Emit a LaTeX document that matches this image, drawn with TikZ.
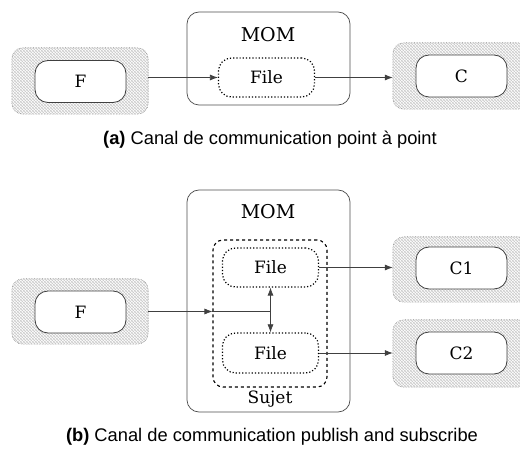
\documentclass[tikz,border=0pt]{standalone}
\usepackage{fontspec}
\setmainfont{DejaVu Serif}
\newfontfamily\capfont{Liberation Sans}
\usetikzlibrary{arrows.meta}
\tikzset{
  outerbox/.style={minimum width=136pt, inner sep=0pt},
  outline/.style={draw=black!45, densely dotted, line width=0.6pt, rounded corners=11pt},
  hatch/.style={draw=black!22, line width=0.45pt},
  innerbox/.style={draw=black!75, line width=0.8pt, fill=white, rounded corners=13pt,
    minimum width=91pt, minimum height=42pt, inner sep=0pt, font=\fontsize{17}{20}\selectfont},
  mombox/.style={draw=black!70, line width=0.7pt, rounded corners=12pt, minimum width=163pt, inner sep=0pt},
  filebox/.style={draw=black, dotted, line width=1.2pt, rounded corners=13pt,
    minimum width=96pt, inner sep=0pt, font=\fontsize{17}{20}\selectfont},
  sujetbox/.style={draw=black, dashed, line width=1.1pt, rounded corners=10pt,
    minimum width=114pt, minimum height=147pt, inner sep=0pt},
  lbl/.style={font=\fontsize{17}{20}\selectfont, inner sep=0pt},
  momlbl/.style={font=\fontsize{19}{22}\selectfont, inner sep=0pt},
  arr/.style={draw=black!75, line width=0.7pt, -{Latex[length=8pt,width=6pt]}},
  ln/.style={draw=black!75, line width=0.7pt},
  caption/.style={font=\capfont\fontsize{18.3}{22}\selectfont, inner sep=0pt}
}
% cross-hatched fill and dotted rim for a shaded client/producer frame
\newcommand\xhatch[1]{%
  \begin{scope}
    \clip[rounded corners=11pt] (#1.south west) rectangle (#1.north east);
    \foreach \k in {-72,-69,...,138} {
      \draw[hatch] (#1.north west) ++(\k,0) -- ++(72,72);
    }
    \foreach \k in {0,3,...,210} {
      \draw[hatch] (#1.north west) ++(\k,0) -- ++(-72,72);
    }
  \end{scope}
  \draw[outline] (#1.south west) rectangle (#1.north east);
}
\begin{document}
\begin{tikzpicture}[x=1pt,y=-1pt]
\useasboundingbox (0,0) rectangle (520,457);
\clip (0,0) rectangle (520,457);

% ---------- (a) point-to-point channel ----------
\node[outerbox, minimum height=66pt] (Fa) at (80,81) {};
\xhatch{Fa}
\node[innerbox] (Fai) at (80.5,81.5) {F};
\node[mombox, minimum height=93pt] (MOMa) at (268.5,58.5) {};
\node[momlbl] (MOMat) at (268,35) {MOM};
\node[filebox, minimum height=39pt] (Filea) at (266.5,77.5) {File};
\node[outerbox, minimum height=66pt] (Ca) at (461,76) {};
\xhatch{Ca}
\node[innerbox] (Cai) at (461.5,76) {C};

\draw[arr] (Fa.east |- Filea.west) -- (Filea.west);
\draw[arr] (Filea.east) -- (Ca.west |- Filea.east);

\node[caption] (capa) at (270,140) {\textbf{(a)} Canal de communication point à point};

% ---------- (b) publish / subscribe channel ----------
\node[outerbox, minimum height=65pt] (Fb) at (80,311.5) {};
\xhatch{Fb}
\node[innerbox] (Fbi) at (80.5,312) {F};
\node[mombox, minimum height=222pt] (MOMb) at (268.5,301) {};
\node[momlbl] (MOMbt) at (268,212) {MOM};
\node[sujetbox] (Sujet) at (270,313.5) {};
\node[lbl] (Sujett) at (270,399) {Sujet};
\node[filebox, minimum height=39pt] (File1) at (270.5,267.5) {File};
\node[filebox, minimum height=40pt] (File2) at (270.5,353) {File};
\node[outerbox, minimum height=65pt] (C1) at (461,269.5) {};
\xhatch{C1}
\node[innerbox] (C1i) at (461.5,268) {C1};
\node[outerbox, minimum height=67pt] (C2) at (461,353.5) {};
\xhatch{C2}
\node[innerbox] (C2i) at (461.5,353) {C2};

\coordinate (J) at (File1.south |- Fb.east);
\draw[arr] (Fb.east) -- (Fb.east -| Sujet.west);
\draw[ln] (Fb.east -| Sujet.west) -- (J);
\draw[arr] (J) -- (File1.south);
\draw[arr] (J) -- (File2.north);
\draw[arr] (File1.east) -- (C1.west |- File1.east);
\draw[arr] (File2.east) -- (C2.west |- File2.east);

\node[caption] (capb) at (272,437) {\textbf{(b)} Canal de communication publish and subscribe};
\end{tikzpicture}
\end{document}
